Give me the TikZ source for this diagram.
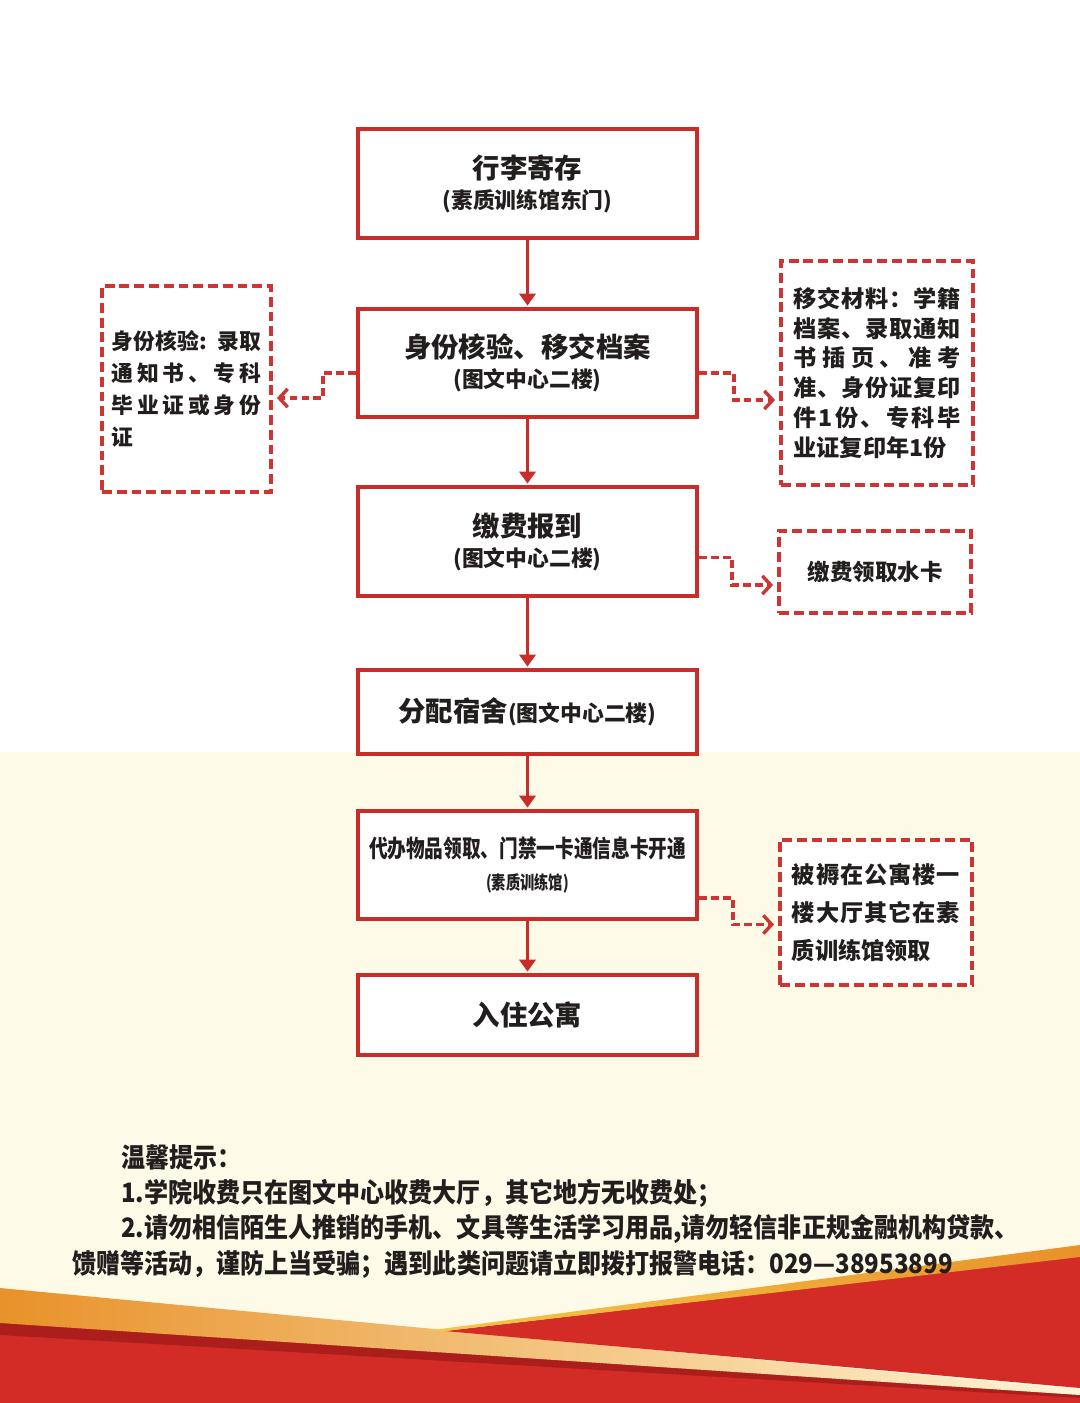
\documentclass[tikz,border=0pt]{standalone}
\usepackage{fontspec}
\setmainfont{Noto Sans CJK SC}
\newfontfamily\narrowfont{Noto Sans CJK SC}[FakeStretch=0.78]
\newfontfamily\tipfont{Noto Sans CJK SC}[FakeStretch=0.9]
\usepackage{tikz}
\usetikzlibrary{arrows.meta, positioning, calc}
\definecolor{boxred}{RGB}{200, 45, 42}
\definecolor{dashred}{RGB}{206, 52, 50}
\definecolor{textdark}{RGB}{34, 30, 30}
\definecolor{paper}{RGB}{253, 250, 232}
\definecolor{bannerred}{RGB}{211, 43, 38}
\definecolor{shadered}{RGB}{172, 30, 28}
\definecolor{goldorange}{RGB}{232, 146, 42}
\definecolor{goldyellow}{RGB}{245, 200, 72}
\definecolor{goldpale}{RGB}{255, 244, 212}
\newcommand{\spreadline}[1]{\makebox[\hsize][s]{\spaceskip=0pt plus 1fil\relax #1}}

\begin{document}
\begin{tikzpicture}[x=0.025cm, y=-0.025cm,
    mainbox/.style={draw=boxred, line width=2.8pt, fill=white, text=textdark,
        minimum width=8.475cm, align=center, inner sep=0pt,
        font=\bfseries\fontsize{15.5}{21.3}\selectfont},
    sidebox/.style={draw=dashred, line width=2.4pt, dash pattern=on 7pt off 3.5pt,
        fill=white, text=textdark, align=left, inner ysep=0pt,
        font=\bfseries\fontsize{16.5}{21.3}\selectfont},
    flowarrow/.style={draw=boxred, line width=2.8pt, shorten >=1pt,
        -{Triangle[length=8.5pt, width=11.5pt]}},
    sidelink/.style={draw=dashred, line width=2.4pt, dash pattern=on 5.5pt off 3pt,
        shorten >=3pt, -{Straight Barb[length=6pt, width=13pt, line width=2.4pt]}},
    tipline/.style={anchor=west, inner sep=0pt, text=textdark,
        font=\tipfont\bfseries\fontsize{19}{23}\selectfont}]
    \useasboundingbox (0,0) rectangle (1080,1403);

    % Paper
    \fill[white] (0,0) rectangle (1080,752);
    \fill[paper] (0,752) rectangle (1080,1403);

    % Banner at the foot
    \fill[bannerred] (0,1323) -- (1080,1393) -- (1080,1403) -- (0,1403) -- cycle;
    \fill[shadered] (0,1322) -- (1080,1393) -- (1080,1398) -- (0,1335) -- cycle;
    \shade[left color=goldorange, middle color=goldyellow, right color=goldpale]
        (0,1288) -- (1080,1390) -- (1080,1395) -- (0,1323) -- cycle;
    \fill[bannerred] (445,1331) -- (1080,1256) -- (1080,1388) -- cycle;
    \shade[left color=goldyellow, right color=goldorange]
        (425,1331) -- (1080,1245) -- (1080,1257) -- (445,1331) -- cycle;

    % Main steps
    \node[mainbox, minimum height=2.725cm] (b1) at (527.5,183.5)
        {{\fontsize{19.5}{24}\selectfont 行李寄存}\\(素质训练馆东门)};
    \node[mainbox, minimum height=2.7cm] (b2) at (527.5,363)
        {{\fontsize{19.5}{24}\selectfont 身份核验、移交档案}\\(图文中心二楼)};
    \node[mainbox, minimum height=2.725cm] (b3) at (527.5,541.5)
        {{\fontsize{19.5}{24}\selectfont 缴费报到}\\(图文中心二楼)};
    \node[mainbox, minimum height=2.1cm] (b4) at (527.5,712)
        {{\fontsize{19.5}{24}\selectfont 分配宿舍}(图文中心二楼)};
    \node[mainbox, minimum height=2.7cm] (b5) at (527.5,865)
        {{\narrowfont\bfseries\fontsize{17}{22}\selectfont 代办物品领取、门禁一卡通信息卡开通}\\[1pt]
         {\narrowfont\bfseries\fontsize{13}{16}\selectfont (素质训练馆)}};
    \node[mainbox, minimum height=2.0cm] (b6) at (527.5,1015)
        {\fontsize{19.5}{24}\selectfont 入住公寓};

    \draw[flowarrow] (b1) -- (b2);
    \draw[flowarrow] (b2) -- (b3);
    \draw[flowarrow] (b3) -- (b4);
    \draw[flowarrow] (b4) -- (b5);
    \draw[flowarrow] (b5) -- (b6);

    % Side notes
    \node[sidebox, text width=3.725cm, inner xsep=0.25cm,
          minimum width=4.225cm, minimum height=5.15cm,
          font=\bfseries\fontsize{15.5}{22.8}\selectfont] (s1) at (186.5,389)
        {\spreadline{身 份 核 验 : 录 取}\\ \spreadline{通 知 书 、 专 科}\\
         \spreadline{毕 业 证 或 身 份}\\ 证};
    \node[sidebox, text width=4.175cm, inner xsep=0.3125cm,
          minimum width=4.8cm, minimum height=5.6cm] (s2) at (877,373)
        {\spreadline{移 交 材 料 ： 学 籍}\\ \spreadline{档 案 、 录 取 通 知}\\
         \spreadline{书 插 页 、 准 考}\\ \spreadline{准 、 身 份 证 复 印}\\
         \spreadline{件 1 份 、 专 科 毕}\\ 业证复印年1份};
    \node[sidebox, align=center, minimum width=4.8cm, minimum height=2.05cm,
          font=\bfseries\fontsize{16}{20}\selectfont] (s3) at (875,572)
        {缴费领取水卡};
    \node[sidebox, text width=4.2cm, inner xsep=0.3cm,
          minimum width=4.8cm, minimum height=3.625cm,
          font=\bfseries\fontsize{16.5}{27}\selectfont] (s4) at (876,912.5)
        {\spreadline{被 褥 在 公 寓 楼 一}\\ \spreadline{楼 大 厅 其 它 在 素}\\
         质训练馆领取};

    \draw[sidelink] ($(b2.west)+(0,10)$) -- ++(-33,0) |- ($(s1.east)+(0,9)$);
    \draw[sidelink] ($(b2.east)+(0,10)$) -- ++(35,0) |- ($(s2.west)+(0,27)$);
    \draw[sidelink] ($(b3.east)+(0,16)$) -- ++(33,0) |- ($(s3.west)+(0,13)$);
    \draw[sidelink] ($(b5.east)+(0,33)$) -- ++(34,0) |- ($(s4.west)+(0,12)$);

    % Reminder text
    \node[tipline] (tip0) at (121,1157) {温馨提示：};
    \node[tipline] (tip1) at (121,1193) {1.学院收费只在图文中心收费大厅，其它地方无收费处；};
    \node[tipline] (tip2) at (121,1229) {2.请勿相信陌生人推销的手机、文具等生活学习用品,请勿轻信非正规金融机构贷款、};
    \node[tipline] (tip3) at (72,1264) {馈赠等活动，谨防上当受骗；遇到此类问题请立即拨打报警电话：029—38953899};
\end{tikzpicture}
\end{document}
